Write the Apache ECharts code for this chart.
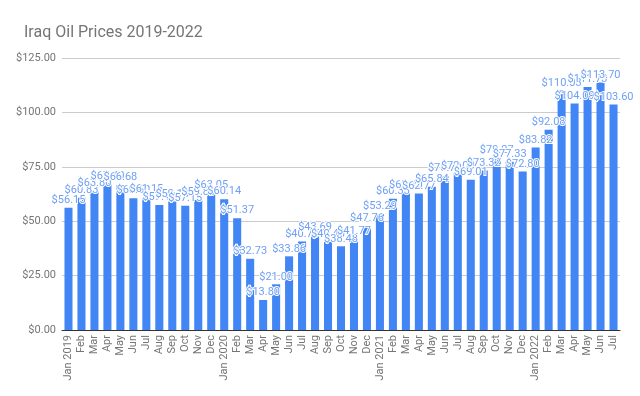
<!DOCTYPE html>
<html>
<head>
<meta charset="utf-8">
<script src="https://cdn.jsdelivr.net/npm/echarts@6/dist/echarts.min.js"></script>
<style>
html,body{margin:0;padding:0;background:#fff;}
#chart{width:640px;height:396px;}
</style>
</head>
<body>
<div id="chart"></div>
<script>
// 月份标签
var months = ["Jan 2019","Feb","Mar","Apr","May","Jun","Jul","Aug","Sep","Oct","Nov","Dec",
	"Jan 2020","Feb","Mar","Apr","May","Jun","Jul","Aug","Sep","Oct","Nov","Dec",
	"Jan 2021","Feb","Mar","Apr","May","Jun","Jul","Aug","Sep","Oct","Nov","Dec",
	"Jan 2022","Feb","Mar","Apr","May","Jun","Jul"];
// 油价（美元）
var prices = [56.15,60.83,63.80,67.40,66.68,60.60,61.15,57.40,59.10,57.15,59.80,63.05,
	60.14,51.37,32.73,13.80,21.00,33.86,40.70,43.69,40.40,38.48,41.77,47.76,
	53.29,60.33,63.10,62.77,65.84,70.70,72.00,69.01,73.32,79.27,77.33,72.80,
	83.82,92.08,110.03,104.09,111.73,113.70,103.60];
var yTicks = [0,25,50,75,100,125];

var myChart = echarts.init(document.getElementById("chart"));
var option = {
	animation : false,
	textStyle : { fontFamily : "Roboto" },
	title : {
		text : "Iraq Oil Prices 2019-2022",
		left : 19,
		top : 20,
		textStyle : { fontFamily : "Roboto", fontSize : 16, fontWeight : "normal", color : "#757575" }
	},
	grid : { left : 62, right : 20, top : 58, bottom : 66, containLabel : false },
	xAxis : {
		type : "category",
		data : months,
		axisLine : { lineStyle : { color : "#333", width : 1 } },
		axisTick : { show : false },
		axisLabel : { rotate : 90, interval : 0, fontSize : 11, color : "#757575", margin : 5 }
	},
	yAxis : {
		type : "value",
		min : yTicks[0],
		max : yTicks[yTicks.length-1],
		interval : 25,
		axisLine : { show : false },
		axisTick : { show : false },
		splitLine : { lineStyle : { color : "#cccccc" } },
		axisLabel : {
			fontSize : 11, color : "#757575", margin : 6,
			formatter : function(v) { return "$" + v.toFixed(2); }
		}
	},
	series : [{
		type : "bar",
		data : prices,
		barWidth : "62%",
		itemStyle : { color : "#4285f4" },
		label : {
			show : true,
			position : "top",
			distance : 2,
			fontSize : 11,
			color : "#6fa0f5",
			textBorderColor : "#fff",
			textBorderWidth : 2,
			formatter : function(p) { return "$" + p.value.toFixed(2); }
		}
	}]
};
myChart.setOption(option);
</script>
</body>
</html>
